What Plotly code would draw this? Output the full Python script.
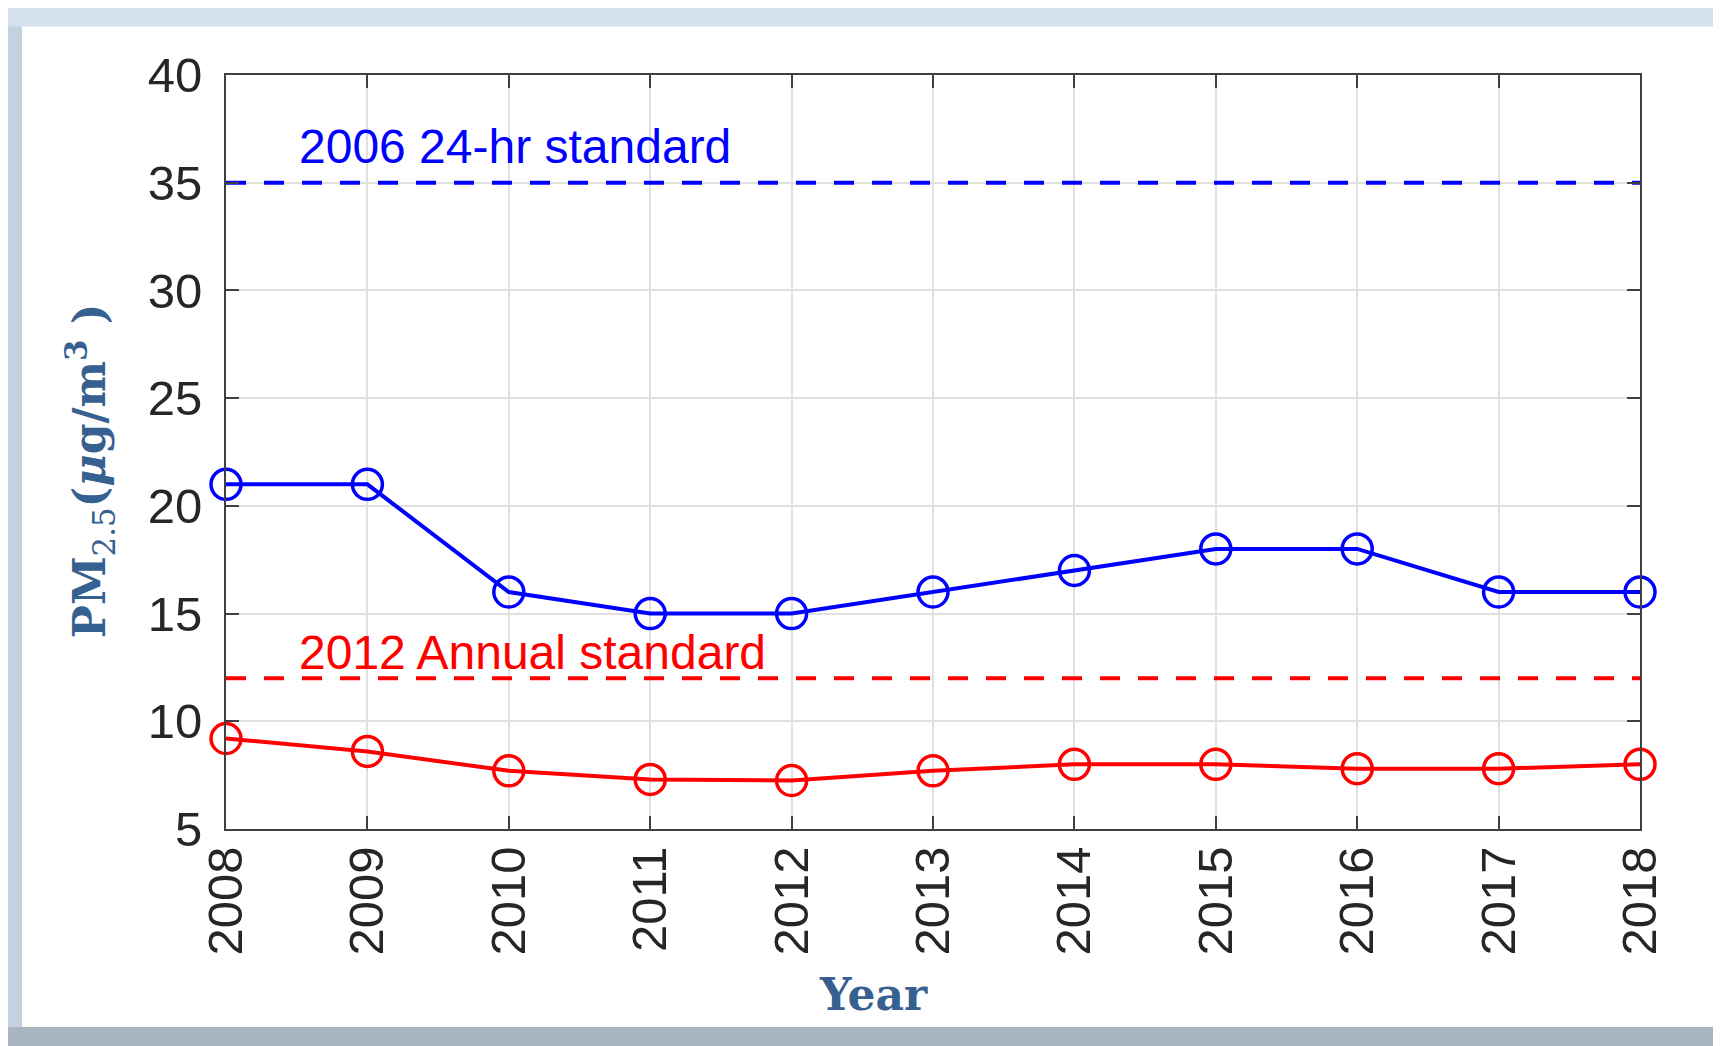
import plotly.graph_objects as go

# ---- data ----
years = [2008, 2009, 2010, 2011, 2012, 2013, 2014, 2015, 2016, 2017, 2018]
pm_24hr = [21, 21, 16, 15, 15, 16, 17, 18, 18, 16, 16]
pm_annual = [9.2, 8.6, 7.7, 7.3, 7.25, 7.7, 8.0, 8.0, 7.8, 7.8, 8.0]
std_24hr_value = 35
std_annual_value = 12
std_24hr_label = "2006 24-hr standard"
std_annual_label = "2012 Annual standard"
y_ticks = [5, 10, 15, 20, 25, 30, 35, 40]

# ---- layout geometry (page pixels; the page body adds an 8px offset) ----
W, H = 1721, 1046
OFF = 8
L, R, T, B = 226, 1640, 74.6, 829


def px(x):
    return (x - L) / (R - L)


def py(y):
    return (B - y) / (B - T)


BLUE = "#0000ff"
RED = "#ff0000"
TITLE_C = "#36608f"
TICKFONT = "Liberation Sans, Arial"

fig = go.Figure()

# standard lines
fig.add_trace(go.Scatter(x=[years[0], years[-1]], y=[std_24hr_value] * 2, mode="lines",
                         line=dict(color=BLUE, width=4, dash="20px,18px"),
                         hoverinfo="skip", showlegend=False))
fig.add_trace(go.Scatter(x=[years[0], years[-1]], y=[std_annual_value] * 2, mode="lines",
                         line=dict(color=RED, width=4, dash="20px,18px"),
                         hoverinfo="skip", showlegend=False))

# data series
fig.add_trace(go.Scatter(x=years, y=pm_24hr, mode="lines+markers",
                         line=dict(color=BLUE, width=4),
                         marker=dict(symbol="circle-open", size=30, color=BLUE, line=dict(width=3.5)),
                         cliponaxis=False, showlegend=False, name="24-hr"))
fig.add_trace(go.Scatter(x=years, y=pm_annual, mode="lines+markers",
                         line=dict(color=RED, width=4),
                         marker=dict(symbol="circle-open", size=30, color=RED, line=dict(width=3.5)),
                         cliponaxis=False, showlegend=False, name="Annual"))

axis_common = dict(
    showline=True, linecolor="#404040", linewidth=2, mirror="ticks",
    ticks="inside", ticklen=13, tickwidth=2, tickcolor="#404040",
    showgrid=True, gridcolor="#e0e0e0", gridwidth=1.5, zeroline=False,
    tickfont=dict(family=TICKFONT, size=49, color="#262626"),
)

fig.update_xaxes(range=[years[0], years[-1]], tickmode="array", tickvals=years,
                 ticktext=[str(y) for y in years], tickangle=-90,
                 ticklabelstandoff=-4, **axis_common)
fig.update_yaxes(range=[5, 40], tickmode="array", tickvals=y_ticks,
                 ticktext=[str(v) for v in y_ticks], ticklabelstandoff=12, **axis_common)

shapes = [
    # outer frame
    dict(type="rect", xref="paper", yref="paper", x0=px(0), x1=px(1730), y0=py(0), y1=py(1060),
         fillcolor="#e6ebf0", line=dict(width=0), layer="below"),
    dict(type="rect", xref="paper", yref="paper", x0=px(6), x1=px(1730), y0=py(5), y1=py(1060),
         fillcolor="#d4e1ed", line=dict(width=0), layer="below"),
    dict(type="rect", xref="paper", yref="paper", x0=px(6), x1=px(22), y0=py(26), y1=py(1027),
         fillcolor="#c2d2e1", line=dict(width=0), layer="below"),
    dict(type="rect", xref="paper", yref="paper", x0=px(1714), x1=px(1730), y0=py(26), y1=py(1027),
         fillcolor="#b8c7d6", line=dict(width=0), layer="below"),
    dict(type="rect", xref="paper", yref="paper", x0=px(6), x1=px(1730), y0=py(1027), y1=py(1060),
         fillcolor="#a9b6c2", line=dict(width=0), layer="below"),
    # white panel
    dict(type="rect", xref="paper", yref="paper", x0=px(22), x1=px(1714), y0=py(26), y1=py(1027),
         fillcolor="white", line=dict(width=0), layer="below"),
    # border lines
    dict(type="line", xref="paper", yref="paper", x0=px(6), x1=px(1730), y0=py(5), y1=py(5),
         line=dict(color="#557799", width=2), layer="below"),
    dict(type="line", xref="paper", yref="paper", x0=px(6), x1=px(6), y0=py(5), y1=py(1060),
         line=dict(color="#557799", width=2), layer="below"),
]

annotations = [
    dict(x=2008.5, y=36.7, xref="x", yref="y", text=std_24hr_label, showarrow=False,
         xanchor="left", yanchor="middle",
         font=dict(family=TICKFONT, size=48, color=BLUE)),
    dict(x=2008.5, y=13.2, xref="x", yref="y", text=std_annual_label, showarrow=False,
         xanchor="left", yanchor="middle",
         font=dict(family=TICKFONT, size=48, color=RED)),
    dict(x=px(90), y=py(471), xref="paper", yref="paper", textangle=-90,
         text="<b>PM</b><sub>2.5</sub><b>(<i>μ</i>g/m<sup>3</sup> )</b>", showarrow=False,
         xanchor="center", yanchor="middle",
         font=dict(family="DejaVu Serif", size=44, color=TITLE_C)),
    dict(x=px(873), y=py(995), xref="paper", yref="paper",
         text="<b>Year</b>", showarrow=False, xanchor="center", yanchor="middle",
         font=dict(family="DejaVu Serif", size=44, color=TITLE_C)),
]

fig.update_layout(
    width=W, height=H,
    margin=dict(l=L - OFF, r=W - (R - OFF), t=T - OFF, b=H - (B - OFF), pad=0),
    paper_bgcolor="#e6ebf0", plot_bgcolor="rgba(0,0,0,0)",
    shapes=shapes, annotations=annotations, showlegend=False,
)

fig.write_html("out.html")
